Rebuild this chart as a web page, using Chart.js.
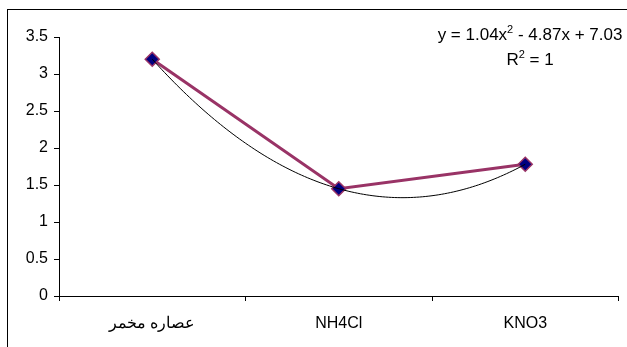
<!DOCTYPE html>
<html>
<head>
<meta charset="utf-8">
<script src="https://cdn.jsdelivr.net/npm/chart.js@4/dist/chart.umd.min.js"></script>
<style>
  html, body { margin: 0; padding: 0; background: #fff; }
  #wrap { position: relative; width: 627px; height: 347px; overflow: hidden; }
  #frame { position: absolute; left: 7px; top: 9px; right: -5px; bottom: -5px;
           border-left: 1px solid #000; border-top: 1px solid #000; pointer-events: none; }
  canvas { position: absolute; left: 0; top: 0; }
</style>
</head>
<body>
<div id="wrap">
  <canvas id="c" width="627" height="347"></canvas>
  <div id="frame"></div>
</div>
<script>
// Categories and measured values
const categories = ['عصاره مخمر', 'NH4Cl', 'KNO3'];
const values = [3.2, 1.45, 1.78];
const yTicks = [0, 0.5, 1, 1.5, 2, 2.5, 3, 3.5];
// Polynomial trendline y = a x^2 + b x + c (x = 1..n over the categories)
const trendCoefficients = [1.04, -4.87, 7.03];
const trendR2 = 1;

const FONT = '"Liberation Sans", Arial, sans-serif';

function fmtTerm(v) {
  return (v < 0 ? ' - ' : ' + ') + Math.abs(v).toFixed(2);
}

// Draws the quadratic trendline and its equation label
const trendlinePlugin = {
  id: 'trendline',
  afterDatasetsDraw(chart) {
    const ctx = chart.ctx;
    const xs = chart.scales.x, ys = chart.scales.y;
    const [a, b, c] = trendCoefficients;
    ctx.save();
    ctx.strokeStyle = '#000';
    ctx.lineWidth = 1;
    ctx.beginPath();
    const steps = 120;
    for (let i = 0; i <= steps; i++) {
      const x = 1 + (categories.length - 1) * i / steps;
      const y = a * x * x + b * x + c;
      const px = xs.getPixelForValue(x - 1);
      const py = ys.getPixelForValue(y);
      if (i === 0) ctx.moveTo(px, py); else ctx.lineTo(px, py);
    }
    ctx.stroke();

    // equation label
    const cx = 530;
    ctx.fillStyle = '#000';
    ctx.textBaseline = 'alphabetic';
    const big = '17px ' + FONT, small = '11px ' + FONT;
    const parts = [
      { t: 'y = ' + a.toFixed(2) + 'x', f: big, dy: 0 },
      { t: '2', f: small, dy: -7 },
      { t: fmtTerm(b) + 'x' + fmtTerm(c), f: big, dy: 0 }
    ];
    let w = 0;
    parts.forEach(p => { ctx.font = p.f; p.w = ctx.measureText(p.t).width; w += p.w; });
    let x0 = cx - w / 2;
    ctx.textAlign = 'left';
    parts.forEach(p => { ctx.font = p.f; ctx.fillText(p.t, x0, 40 + p.dy); x0 += p.w; });

    const parts2 = [
      { t: 'R', f: big, dy: 0 },
      { t: '2', f: small, dy: -7 },
      { t: ' = ' + trendR2, f: big, dy: 0 }
    ];
    w = 0;
    parts2.forEach(p => { ctx.font = p.f; p.w = ctx.measureText(p.t).width; w += p.w; });
    x0 = cx - w / 2;
    parts2.forEach(p => { ctx.font = p.f; ctx.fillText(p.t, x0, 65 + p.dy); x0 += p.w; });
    ctx.restore();
  }
};

new Chart(document.getElementById('c'), {
  type: 'line',
  data: {
    labels: categories,
    datasets: [{
      data: values,
      borderColor: '#993366',
      borderWidth: 3,
      pointStyle: 'rectRot',
      pointRadius: 7,
      pointHoverRadius: 7,
      pointBackgroundColor: '#000080',
      pointBorderColor: '#993366',
      pointBorderWidth: 1.5,
      tension: 0
    }]
  },
  options: {
    responsive: false,
    animation: false,
    events: [],
    layout: { padding: { top: 37, right: 3, left: 0, bottom: 0 } },
    plugins: { legend: { display: false }, tooltip: { enabled: false } },
    scales: {
      x: {
        type: 'category',
        offset: true,
        grid: { offset: true, drawOnChartArea: false, drawTicks: true, tickLength: 5, color: '#000' },
        border: { color: '#000', width: 1 },
        ticks: { color: '#000', font: { family: FONT, size: 16 }, padding: 13, maxRotation: 0 },
        afterFit(s) { s.height = 51; }
      },
      y: {
        min: 0,
        max: 3.5,
        afterBuildTicks(s) { s.ticks = yTicks.map(v => ({ value: v })); },
        grid: { drawOnChartArea: false, drawTicks: true, tickLength: 5, color: '#000' },
        border: { color: '#000', width: 1 },
        ticks: { color: '#000', font: { family: FONT, size: 16 }, padding: 6,
                 callback: v => String(v) },
        afterFit(s) { s.width = 59; }
      }
    }
  },
  plugins: [trendlinePlugin]
});
</script>
</body>
</html>
